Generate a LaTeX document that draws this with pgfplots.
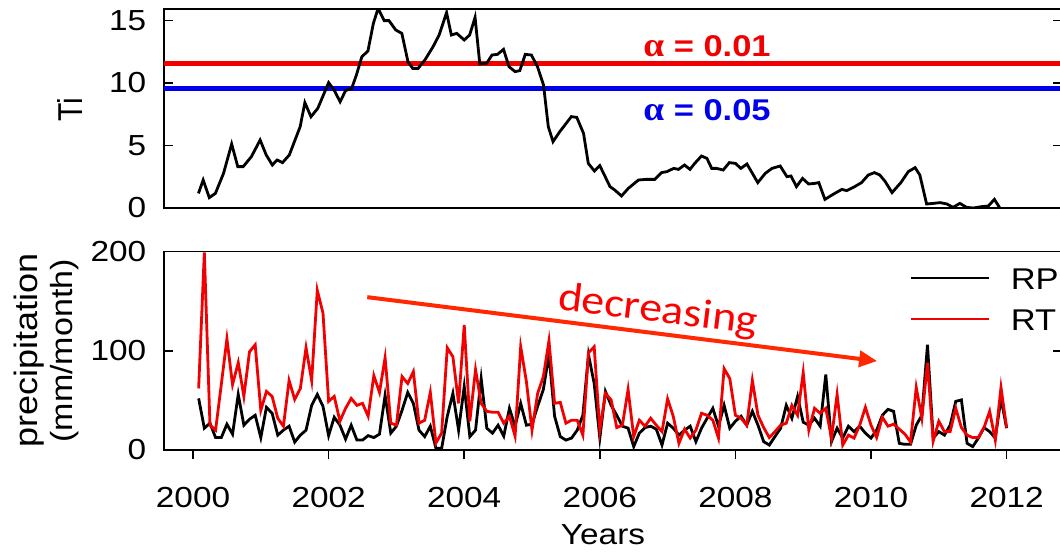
\documentclass[border=0pt]{standalone}
\usepackage{pgfplots}
\pgfplotsset{compat=1.18}
\usepackage{pgfplotstable}
\usepackage{graphicx}
\usepackage{fontspec}
\setmainfont[FakeStretch=1.15]{Liberation Sans}
\newfontfamily\plainsans{Liberation Sans}
\newfontfamily\serifgr[FakeStretch=1.1]{Liberation Serif}
\newfontfamily\calib[FakeStretch=1.12]{Carlito}
\usetikzlibrary{arrows.meta}
\definecolor{myred}{RGB}{240,0,0}
\definecolor{myblue}{RGB}{0,0,235}
\definecolor{arrowred}{RGB}{255,40,0}

\pgfplotstableread{
t RP RT
2000.083 52 62
2000.167 22 199
2000.250 27 25
2000.333 12.5 20
2000.417 12.5 66
2000.500 26 112
2000.583 16 66
2000.667 56 88
2000.750 25 54
2000.833 31 99
2000.917 35 106
2001.000 12.5 40
2001.083 43 59
2001.167 37 54
2001.250 15 32
2001.333 20 24
2001.417 24 70
2001.500 8 51
2001.583 15 62
2001.667 20 103
2001.750 45 70
2001.833 56 161
2001.917 44 138
2002.000 14.5 49
2002.083 33 54
2002.167 25 29
2002.250 11 42
2002.333 25 52
2002.417 10 45
2002.500 10 47
2002.583 14.5 34
2002.667 12.5 75
2002.750 16 58
2002.833 55 93
2002.917 17 27
2003.000 24 25
2003.083 40 74
2003.167 58 67
2003.250 47 79
2003.333 20 27
2003.417 13.5 30
2003.500 24 58
2003.583 1.7 7
2003.667 1.7 17
2003.750 34 103
2003.833 57 94
2003.917 20 47
2004.000 64 126
2004.083 13.5 29
2004.167 20 81
2004.250 72 47
2004.333 22 39
2004.417 17 38
2004.500 25 38
2004.583 14 27
2004.667 42 34
2004.750 24 14
2004.833 47 104
2004.917 25 69
2005.000 26 20
2005.083 44 57
2005.167 61 74
2005.250 96 110
2005.333 34 47
2005.417 13.5 48
2005.500 10 27
2005.583 12 30
2005.667 20 30
2005.750 35 15
2005.833 96 98
2005.917 67 104
2006.000 12 20
2006.083 59 57
2006.167 45 50.5
2006.250 35 22.6
2006.333 24 25
2006.417 22 61
2006.500 3.4 13.5
2006.583 17 30
2006.667 22.6 24
2006.750 24 32
2006.833 21 25
2006.917 5 18.5
2007.000 27 51.5
2007.083 22 34
2007.167 15 6.7
2007.250 20 21
2007.333 24 12
2007.417 8.4 20
2007.500 22 37
2007.583 32 35
2007.667 42 30
2007.750 24 12
2007.833 45 82
2007.917 22 72
2008.000 29 35
2008.083 34 32
2008.167 25 25
2008.250 39 70
2008.333 25 35
2008.417 8.4 22.6
2008.500 5 12.5
2008.583 13.5 18.5
2008.667 22 25
2008.750 45 27
2008.833 32 45
2008.917 54 35
2009.000 28 78
2009.083 25 20
2009.167 32 42
2009.250 24 37
2009.333 76 42
2009.417 8.4 12
2009.500 22 56
2009.583 12 5
2009.667 24 15
2009.750 18.5 12
2009.833 24 25
2009.917 17 43
2010.000 12 25
2010.083 20 12.5
2010.167 35 33
2010.250 41 24
2010.333 39 26
2010.417 6.7 21
2010.500 5.7 16
2010.583 5.7 8
2010.667 25 63
2010.750 35 32
2010.833 106 88
2010.917 12 9
2011.000 18.5 29
2011.083 15 18.5
2011.167 25 18.5
2011.250 49 42
2011.333 50.5 22.6
2011.417 6.7 15
2011.500 3.4 12.5
2011.583 12 12.5
2011.667 22.6 22.6
2011.750 18.5 39
2011.833 12 10
2011.917 52 63
2012.000 22 22.6
}\prec

\pgfplotsset{
  base/.style={
    scale only axis,
    width=449pt,
    xmin=1999.572, xmax=2012.817,
    every axis/.append style={line width=0.8pt},
    axis line style={draw=black, line width=0.8pt},
    every tick/.style={black, line width=0.8pt},
    major tick length=4.5pt,
    ytick align=inside, ytick pos=both,
    tick label style={font=\fontsize{14.5}{16}\selectfont},
    /pgf/number format/assume math mode=true,
    yticklabel style={inner sep=0pt, xshift=-8.5pt},
  }
}

\begin{document}
\begin{tikzpicture}
\useasboundingbox (0,0) rectangle (530pt,276.5pt);

% ---------- top panel ----------
\begin{axis}[base,
  at={(82pt,172.5pt)}, anchor=south west,
  height=99.5pt,
  ymin=0, ymax=15.92,
  ytick={0,5,10,15},
  xtick=\empty,
]
\addplot[myred, line width=2.6pt] coordinates {(1999.572,11.57) (2012.817,11.57)};
\addplot[myblue, line width=2.6pt] coordinates {(1999.572,9.57) (2012.817,9.57)};
\addplot[black, line width=1.4pt] coordinates {
(2000.08,1.17)(2000.15,2.24)(2000.24,0.83)(2000.33,1.17)(2000.45,2.77)(2000.57,5.12)(2000.66,3.31)(2000.74,3.31)(2000.86,4.1)(2000.99,5.44)(2001.08,4.24)(2001.17,3.44)(2001.24,3.84)(2001.32,3.63)(2001.42,4.24)(2001.58,6.5)(2001.65,8.43)(2001.74,7.3)(2001.84,7.97)(2002.0,10.03)(2002.08,9.44)(2002.17,8.5)(2002.25,9.39)(2002.34,9.57)(2002.41,10.64)(2002.49,12.1)(2002.58,12.56)(2002.66,14.77)(2002.73,15.97)(2002.82,14.99)(2002.89,14.99)(2002.99,14.24)(2003.08,13.97)(2003.17,11.71)(2003.24,11.17)(2003.32,11.17)(2003.42,11.84)(2003.54,12.9)(2003.63,13.84)(2003.74,15.63)(2003.81,13.84)(2003.89,13.97)(2004.0,13.44)(2004.08,13.84)(2004.16,15.25)(2004.23,11.52)(2004.33,11.57)(2004.41,12.24)(2004.49,12.29)(2004.58,12.69)(2004.66,11.31)(2004.75,10.91)(2004.82,10.99)(2004.90,12.29)(2004.99,12.24)(2005.08,11.31)(2005.17,9.84)(2005.24,6.51)(2005.31,5.31)(2005.41,6.11)(2005.58,7.31)(2005.66,7.25)(2005.76,5.97)(2005.83,3.57)(2005.92,2.96)(2006.0,3.39)(2006.15,1.71)(2006.22,1.44)(2006.32,0.96)(2006.42,1.57)(2006.57,2.24)(2006.69,2.29)(2006.81,2.29)(2006.91,2.83)(2006.99,2.91)(2007.09,3.17)(2007.16,3.09)(2007.25,3.44)(2007.33,3.09)(2007.40,3.57)(2007.50,4.16)(2007.58,3.97)(2007.65,3.17)(2007.72,3.17)(2007.82,3.04)(2007.91,3.63)(2008.0,3.57)(2008.08,3.17)(2008.17,3.52)(2008.33,2.03)(2008.44,2.77)(2008.54,3.17)(2008.66,3.36)(2008.76,2.51)(2008.82,2.56)(2008.90,1.71)(2008.99,2.37)(2009.08,1.92)(2009.17,1.97)(2009.23,2.03)(2009.32,0.69)(2009.44,1.09)(2009.57,1.49)(2009.64,1.39)(2009.74,1.65)(2009.86,2.03)(2009.96,2.64)(2010.05,2.83)(2010.13,2.64)(2010.21,2.11)(2010.31,1.23)(2010.44,2.03)(2010.55,2.91)(2010.65,3.23)(2010.72,2.64)(2010.82,0.32)(2010.92,0.37)(2011.02,0.43)(2011.12,0.32)(2011.21,0.05)(2011.31,0.37)(2011.41,0.05)(2011.51,0.0)(2011.63,0.11)(2011.73,0.16)(2011.82,0.69)(2011.90,0.0)
};
\end{axis}

% ---------- bottom panel ----------
\begin{axis}[base,
  at={(82pt,51.5pt)}, anchor=south west,
  height=99.25pt,
  ymin=0, ymax=200,
  ytick={0,100,200},
  xtick={2000,2002,...,2012},
  xtick align=outside, xtick pos=bottom,
  xticklabel style={inner sep=0pt, yshift=-13.5pt},
  /pgf/number format/1000 sep={},
  legend style={draw=none, fill=none, inner sep=0pt, outer sep=0pt,
    at={(axis description cs:0.8307,0.7632)}, anchor=west,
    font=\fontsize{15}{17}\selectfont,
    nodes={inner sep=0pt, text height=11pt, text depth=0pt},
    row sep=9.5pt, column sep=10pt},
  legend cell align=left,
  legend image code/.code={\draw[#1, line width=1.4pt] (0pt,0pt) -- (39pt,0pt);},
]
\addplot[black, line width=1.4pt] table[x=t, y=RP] {\prec};
\addlegendentry{RP}
\addplot[myred, line width=1.4pt] table[x=t, y=RT] {\prec};
\addlegendentry{RT}
\draw[arrowred, line width=2pt, -{Triangle[length=9pt,width=8pt]}]
  (axis cs:2002.57,154) -- (axis cs:2010.09,89.6);
\end{axis}

% ---------- labels ----------
\node[rotate=90, anchor=south, inner sep=0pt, font=\plainsans\fontsize{15}{17}\selectfont]
  at (41.5pt,221.5pt) {\scalebox{1}[1.15]{Ti}};
\node[rotate=90, anchor=base, inner sep=0pt, font=\plainsans\fontsize{18}{20}\selectfont]
  at (18.5pt,101.1pt) {\scalebox{1}[0.9]{precipitation}};
\node[rotate=90, anchor=base, inner sep=0pt, font=\plainsans\fontsize{17}{19}\selectfont]
  at (36pt,101.1pt) {\scalebox{1}[0.9]{(mm/month)}};
\node[anchor=north, inner sep=0pt, font=\fontsize{14.5}{17}\selectfont]
  at (301.5pt,14.5pt) {Years};
\node[anchor=base, inner sep=0pt, text=myred, font=\bfseries\fontsize{15}{17}\selectfont]
  at (353.5pt,248pt) {{\serifgr\fontsize{17}{17}\selectfont α} = 0.01};
\node[anchor=base, inner sep=0pt, text=myblue, font=\bfseries\fontsize{15}{17}\selectfont]
  at (353.5pt,216.5pt) {{\serifgr\fontsize{17}{17}\selectfont α} = 0.05};
\node[rotate=-7, inner sep=0pt, text=red, font=\calib\fontsize{20.5}{24}\selectfont]
  at (329pt,120.75pt) {decreasing};
\end{tikzpicture}
\end{document}
